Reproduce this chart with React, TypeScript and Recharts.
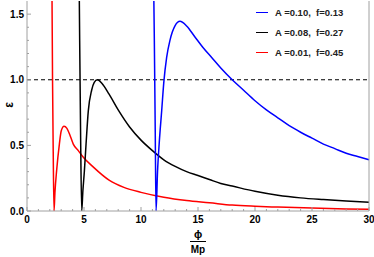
import { Line, LineChart, ReferenceLine, XAxis, YAxis } from "recharts";

const redX = [2.15, 2.18, 2.24, 2.3, 2.37, 2.45, 2.6, 2.84, 3.0, 3.25, 3.5, 3.8, 4.06, 4.5, 4.94, 5.8, 7.2, 8.5, 10, 12, 14, 16, 18, 20, 22, 25, 28, 30];
const redY = [2.0, 1.8, 1.0, 0.45, 0, 0.14, 0.31, 0.51, 0.61, 0.646, 0.63, 0.57, 0.51, 0.46, 0.41, 0.336, 0.235, 0.18, 0.142, 0.105, 0.08, 0.063, 0.045, 0.036, 0.03, 0.022, 0.016, 0.014];

const blackX = [4.55, 4.62, 4.7, 4.8, 4.9, 5.03, 5.18, 5.38, 5.67, 5.9, 6.17, 6.6, 7.2, 8, 9, 10, 11, 12, 13, 14, 15, 16, 17, 18, 20, 22, 24, 26, 28, 30];
const blackY = [2.0, 1.3, 0.6, 0, 0.15, 0.3, 0.51, 0.765, 0.92, 0.98, 1.0, 0.97, 0.89, 0.77, 0.64, 0.54, 0.46, 0.39, 0.34, 0.3, 0.27, 0.24, 0.21, 0.19, 0.15, 0.12, 0.1, 0.087, 0.076, 0.066];

const blueX = [11.05, 11.1, 11.17, 11.25, 11.32, 11.45, 11.6, 11.82, 12.0, 12.25, 12.54, 12.98, 13.42, 14, 14.7, 15.4, 16.2, 17, 18, 19, 20, 21, 22, 23, 24, 25, 26, 27, 28, 29, 30];
const blueY = [2.0, 1.8, 1.3, 0.6, 0, 0.3, 0.52, 0.77, 0.98, 1.17, 1.3, 1.41, 1.445, 1.41, 1.33, 1.25, 1.17, 1.09, 1.0, 0.92, 0.84, 0.77, 0.71, 0.65, 0.6, 0.555, 0.51, 0.475, 0.44, 0.415, 0.39];

const legendLabels = ["A =0.10,  f=0.13", "A =0.08,  f=0.27", "A =0.01,  f=0.45"];
const colors = ["#0000ff", "#000000", "#ff0000"];

const xTicks = Array.from({ length: 31 }, (_, i) => i);
const yTicks = Array.from({ length: 16 }, (_, i) => Math.round(i * 10) / 100);

const toRows = (xs: number[], ys: number[]) => xs.map((x, i) => ({ x, y: ys[i] }));
const red = toRows(redX, redY);
const black = toRows(blackX, blackY);
const blue = toRows(blueX, blueY);

const FRAME = "#a0a0a0";
const FONT = "'Liberation Sans', Arial, sans-serif";

const isMajorX = (v: number) => v % 5 === 0;
const isMajorY = (v: number) => Math.abs(v * 2 - Math.round(v * 2)) < 1e-6;

const BottomTick = (p: any) => {
  const v = p.payload.value;
  const len = isMajorX(v) ? 4 : 2;
  return (
    <g>
      <line x1={p.x} x2={p.x} y1={p.y} y2={p.y - len} stroke={FRAME} />
      {isMajorX(v) && (
        <text x={p.x} y={p.y + 12} textAnchor="middle" fontSize={10} fontWeight="bold" fontFamily={FONT} fill="#000">
          {v}
        </text>
      )}
    </g>
  );
};

const TopTick = (p: any) => {
  const v = p.payload.value;
  const len = isMajorX(v) ? 4 : 2;
  return <line x1={p.x} x2={p.x} y1={p.y} y2={p.y + len} stroke={FRAME} />;
};

const LeftTick = (p: any) => {
  const v = p.payload.value;
  const len = isMajorY(v) ? 4 : 2;
  return (
    <g>
      <line x1={p.x} x2={p.x + len} y1={p.y} y2={p.y} stroke={FRAME} />
      {isMajorY(v) && (
        <text x={p.x - 3} y={p.y + 3.5} textAnchor="end" fontSize={10} fontWeight="bold" fontFamily={FONT} fill="#000">
          {v.toFixed(1)}
        </text>
      )}
    </g>
  );
};

const RightTick = (p: any) => {
  const v = p.payload.value;
  const len = isMajorY(v) ? 4 : 2;
  return <line x1={p.x} x2={p.x - len} y1={p.y} y2={p.y} stroke={FRAME} />;
};

export default function App() {
  return (
    <div style={{ position: "absolute", left: 0, top: 0, width: 374, height: 257, background: "#fff", fontFamily: FONT }}>
      <LineChart width={374} height={257} margin={{ top: 1, right: 0, bottom: 0, left: 0 }}>
        <XAxis
          dataKey="x"
          type="number"
          domain={[0, 30]}
          ticks={xTicks}
          interval={0}
          height={46}
          tickSize={0}
          tickMargin={0}
          tickLine={false}
          axisLine={{ stroke: FRAME }}
          tick={BottomTick}
        />
        <XAxis
          xAxisId="top"
          orientation="top"
          type="number"
          domain={[0, 30]}
          ticks={xTicks}
          interval={0}
          height={0}
          tickSize={0}
          tickMargin={0}
          tickLine={false}
          axisLine={{ stroke: FRAME }}
          tick={TopTick}
        />
        <YAxis
          type="number"
          domain={[0, 1.6]}
          allowDataOverflow
          ticks={yTicks}
          interval={0}
          width={27}
          tickSize={0}
          tickMargin={0}
          tickLine={false}
          axisLine={{ stroke: FRAME }}
          tick={LeftTick}
        />
        <YAxis
          yAxisId="right"
          orientation="right"
          type="number"
          domain={[0, 1.6]}
          ticks={yTicks}
          interval={0}
          width={5}
          tickSize={0}
          tickMargin={0}
          tickLine={false}
          axisLine={{ stroke: FRAME }}
          tick={RightTick}
        />
        <ReferenceLine y={1} stroke="#000" strokeDasharray="4 3" strokeWidth={1.2} />
        <Line data={red} dataKey="y" type="monotone" stroke={colors[2]} strokeWidth={1.5} dot={false} isAnimationActive={false} />
        <Line data={black} dataKey="y" type="monotone" stroke={colors[1]} strokeWidth={1.5} dot={false} isAnimationActive={false} />
        <Line data={blue} dataKey="y" type="monotone" stroke={colors[0]} strokeWidth={1.5} dot={false} isAnimationActive={false} />
      </LineChart>

      {/* legend */}
      {legendLabels.map((t, i) => (
        <div key={t} style={{ position: "absolute", left: 256, top: 5.5 + i * 20, height: 14, display: "flex", alignItems: "center" }}>
          <div style={{ width: 12, height: 1.5, background: colors[i], marginRight: 7 }} />
          <span style={{ fontSize: 9.5, fontWeight: "bold", color: "#222", whiteSpace: "pre" }}>{t}</span>
        </div>
      ))}

      {/* y label */}
      <div style={{ position: "absolute", left: 2, top: 98, width: 14, textAlign: "center", fontSize: 12, fontWeight: "bold", transform: "rotate(-90deg)" }}>
        ε
      </div>

      {/* x label as fraction */}
      <div style={{ position: "absolute", left: 178, top: 228, width: 40, height: 12, lineHeight: "12px", textAlign: "center", fontSize: 11, fontWeight: "bold" }}>
        ϕ
      </div>
      <div style={{ position: "absolute", left: 190, top: 240.5, width: 16, height: 1, background: "#000" }} />
      <div style={{ position: "absolute", left: 178, top: 244, width: 40, height: 12, lineHeight: "12px", textAlign: "center", fontSize: 10, fontWeight: "bold" }}>
        Mp
      </div>
    </div>
  );
}
